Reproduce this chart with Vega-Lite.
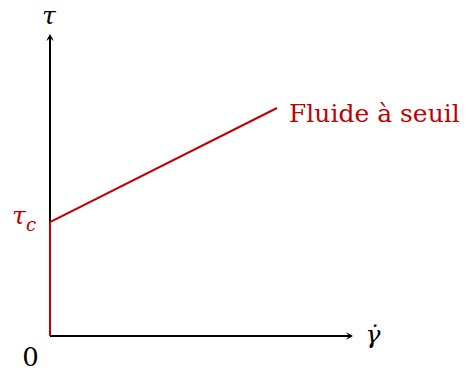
{
  "$schema": "https://vega.github.io/schema/vega-lite/v6.json",
  "width": 473,
  "height": 371,
  "autosize": "none",
  "padding": 0,
  "background": "white",
  "config": {"view": {"stroke": null}, "text": {"font": "DejaVu Serif"}},
  "datasets": {
    "axes": [
      {"x": 0, "y": 0, "x2": 300, "y2": 0},
      {"x": 0, "y": 0, "x2": 0, "y2": 299}
    ],
    "heads": [
      {"x": 303, "y": 0, "dir": "right"},
      {"x": 0, "y": 302, "dir": "up"}
    ],
    "curve": [
      {"x": 0, "y": 0, "o": 0},
      {"x": 0, "y": 114, "o": 1},
      {"x": 227, "y": 228, "o": 2}
    ],
    "labels": [
      {"x": -1, "y": 312, "t": "τ"},
      {"x": 323, "y": -7, "t": "γ̇"}
    ]
  },
  "layer": [
    {
      "data": {"name": "axes"},
      "mark": {"type": "rule", "color": "black", "strokeWidth": 2},
      "encoding": {
        "x": {"field": "x", "type": "quantitative", "scale": {"domain": [-50, 423], "nice": false, "zero": false}, "axis": null},
        "y": {"field": "y", "type": "quantitative", "scale": {"domain": [-35, 336], "nice": false, "zero": false}, "axis": null},
        "x2": {"field": "x2"},
        "y2": {"field": "y2"}
      }
    },
    {
      "data": {"name": "heads"},
      "transform": [{"filter": "datum.dir == 'right'"}],
      "mark": {"type": "point", "shape": "M0,0 L-1,-0.55 L-0.6,0 L-1,0.55 Z", "filled": true, "color": "black", "opacity": 1, "size": 196, "strokeWidth": 0},
      "encoding": {
        "x": {"field": "x", "type": "quantitative", "scale": {"domain": [-50, 423], "nice": false, "zero": false}, "axis": null},
        "y": {"field": "y", "type": "quantitative", "scale": {"domain": [-35, 336], "nice": false, "zero": false}, "axis": null}
      }
    },
    {
      "data": {"name": "heads"},
      "transform": [{"filter": "datum.dir == 'up'"}],
      "mark": {"type": "point", "shape": "M0,0 L-1,-0.55 L-0.6,0 L-1,0.55 Z", "filled": true, "color": "black", "opacity": 1, "size": 196, "angle": -90, "strokeWidth": 0},
      "encoding": {
        "x": {"field": "x", "type": "quantitative", "scale": {"domain": [-50, 423], "nice": false, "zero": false}, "axis": null},
        "y": {"field": "y", "type": "quantitative", "scale": {"domain": [-35, 336], "nice": false, "zero": false}, "axis": null}
      }
    },
    {
      "data": {"name": "curve"},
      "mark": {"type": "line", "color": "#c00000", "strokeWidth": 2},
      "encoding": {
        "x": {"field": "x", "type": "quantitative", "scale": {"domain": [-50, 423], "nice": false, "zero": false}, "axis": null},
        "y": {"field": "y", "type": "quantitative", "scale": {"domain": [-35, 336], "nice": false, "zero": false}, "axis": null},
        "order": {"field": "o"}
      }
    },
    {
      "data": {"name": "labels"},
      "mark": {"type": "text", "fontStyle": "italic", "fontSize": 25, "align": "center", "baseline": "alphabetic", "color": "black"},
      "encoding": {
        "x": {"field": "x", "type": "quantitative", "scale": {"domain": [-50, 423], "nice": false, "zero": false}, "axis": null},
        "y": {"field": "y", "type": "quantitative", "scale": {"domain": [-35, 336], "nice": false, "zero": false}, "axis": null},
        "text": {"field": "t"}
      }
    },
    {
      "data": {"values": [{"x": -19.5, "y": -30, "t": "0"}]},
      "mark": {"type": "text", "fontSize": 26, "align": "center", "baseline": "alphabetic", "color": "black"},
      "encoding": {
        "x": {"field": "x", "type": "quantitative", "scale": {"domain": [-50, 423], "nice": false, "zero": false}, "axis": null},
        "y": {"field": "y", "type": "quantitative", "scale": {"domain": [-35, 336], "nice": false, "zero": false}, "axis": null},
        "text": {"field": "t"}
      }
    },
    {
      "data": {"values": [{"x": -31, "y": 112, "t": "τ"}]},
      "mark": {"type": "text", "fontStyle": "italic", "fontSize": 25, "align": "center", "baseline": "alphabetic", "color": "#c00000"},
      "encoding": {
        "x": {"field": "x", "type": "quantitative", "scale": {"domain": [-50, 423], "nice": false, "zero": false}, "axis": null},
        "y": {"field": "y", "type": "quantitative", "scale": {"domain": [-35, 336], "nice": false, "zero": false}, "axis": null},
        "text": {"field": "t"}
      }
    },
    {
      "data": {"values": [{"x": -24, "y": 105, "t": "c"}]},
      "mark": {"type": "text", "fontStyle": "italic", "fontSize": 18, "align": "left", "baseline": "alphabetic", "color": "#c00000"},
      "encoding": {
        "x": {"field": "x", "type": "quantitative", "scale": {"domain": [-50, 423], "nice": false, "zero": false}, "axis": null},
        "y": {"field": "y", "type": "quantitative", "scale": {"domain": [-35, 336], "nice": false, "zero": false}, "axis": null},
        "text": {"field": "t"}
      }
    },
    {
      "data": {"values": [{"x": 239, "y": 214, "t": "Fluide à seuil"}]},
      "mark": {"type": "text", "fontSize": 25, "align": "left", "baseline": "alphabetic", "color": "#c00000"},
      "encoding": {
        "x": {"field": "x", "type": "quantitative", "scale": {"domain": [-50, 423], "nice": false, "zero": false}, "axis": null},
        "y": {"field": "y", "type": "quantitative", "scale": {"domain": [-35, 336], "nice": false, "zero": false}, "axis": null},
        "text": {"field": "t"}
      }
    }
  ]
}
